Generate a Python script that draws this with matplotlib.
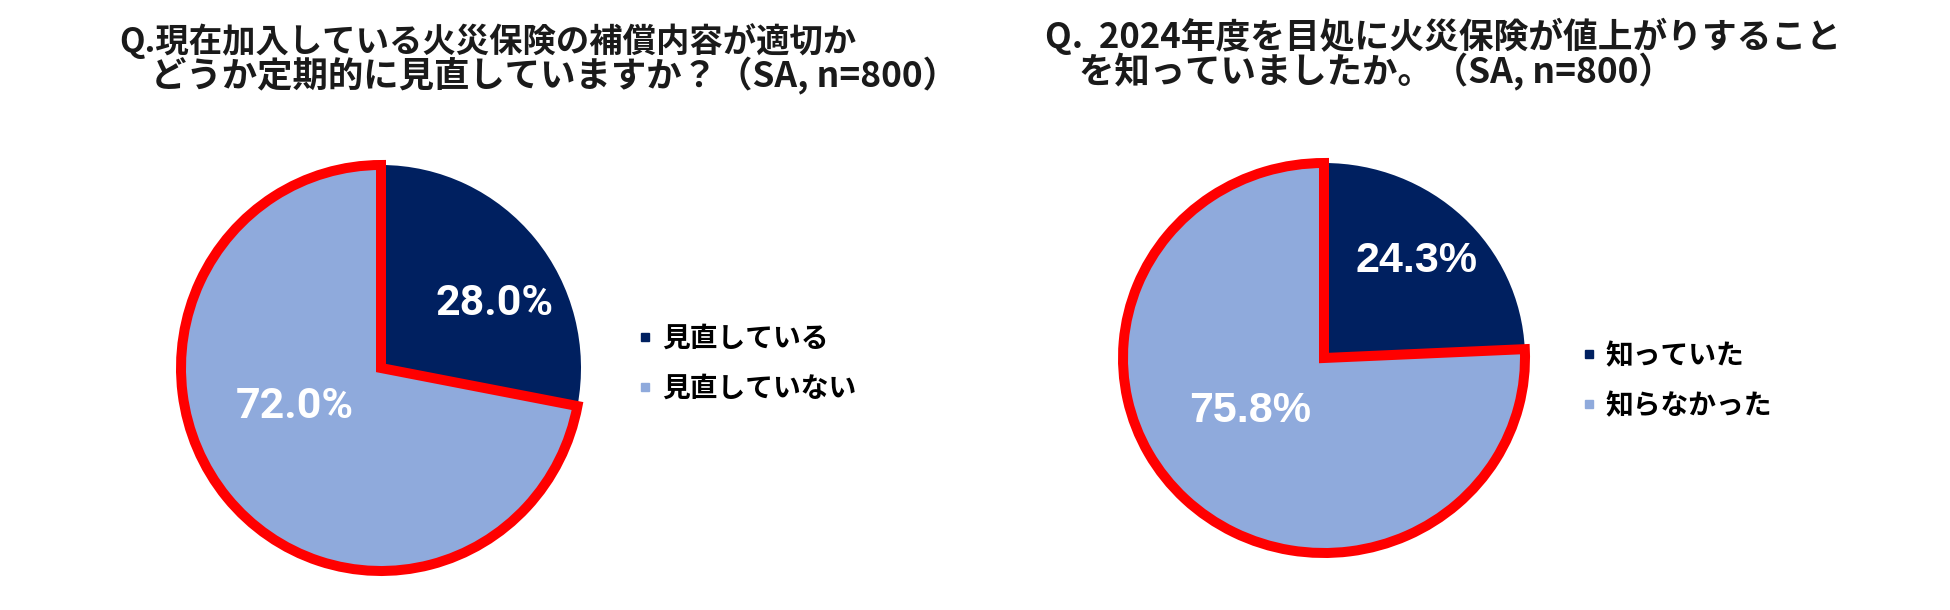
import matplotlib
matplotlib.use("Agg")
import matplotlib.pyplot as plt
from matplotlib.lines import Line2D
from matplotlib import font_manager as fm

# ---------------- data ----------------
left_title_1 = "Q.現在加入している火災保険の補償内容が適切か"
left_title_2 = "どうか定期的に見直していますか？（SA, n=800）"
left_labels = ["見直している", "見直していない"]
left_values = [28.0, 72.0]

right_title_1 = "Q.  2024年度を目処に火災保険が値上がりすること"
right_title_2 = "を知っていましたか。（SA, n=800）"
right_labels = ["知っていた", "知らなかった"]
right_values = [24.3, 75.8]

# ---------------- style ----------------
DARK = "#002060"
LIGHT = "#8FAADC"
RED = "#FF0000"
W, H = 1950, 610
JP = ["Noto Sans CJK JP", "DejaVu Sans"]
LAT = ["Liberation Sans", "DejaVu Sans"]

fig = plt.figure(figsize=(W / 100, H / 100), dpi=100)
fig.patch.set_facecolor("white")


def pie_axes(cx, cy, rx, ry, pad=1.15):
    w = 2 * rx * pad
    h = 2 * ry * pad
    ax = fig.add_axes([(cx - w / 2) / W, 1 - (cy + h / 2) / H, w / W, h / H])
    return ax, pad


def draw_pie(cx, cy, rx, ry, values, labels, label_pos, label_font, label_size,
             label_weight, legend_xy):
    ax, pad = pie_axes(cx, cy, rx, ry)
    wedges, _ = ax.pie(values, colors=[DARK, LIGHT], startangle=90,
                       counterclock=False, radius=1.0,
                       wedgeprops=dict(linewidth=0))
    wedges[1].set_edgecolor(RED)
    wedges[1].set_linewidth(7.2)
    wedges[1].set_joinstyle("miter")
    ax.set_xlim(-pad, pad)
    ax.set_ylim(-pad, pad)
    ax.set_aspect("auto")
    ax.axis("off")
    for v, (px, py) in zip(values, label_pos):
        ax.text(px, py, f"{v:.1f}%", color="white", fontsize=label_size,
                family=label_font, fontweight=label_weight,
                ha="center", va="center")
    handles = [Line2D([], [], marker="s", linestyle="none", color=c,
                      markersize=5.5) for c in (DARK, LIGHT)]
    lx, ly = legend_xy
    fig.legend(handles, labels, loc="center left",
               bbox_to_anchor=(lx / W, 1 - ly / H),
               bbox_transform=fig.transFigure,
               frameon=False, handlelength=0.6, handletextpad=0.3,
               labelspacing=0.8, borderpad=0, borderaxespad=0,
               prop=fm.FontProperties(family=JP, weight="bold", size=20))


# left pie
draw_pie(381, 368, 200, 203, left_values, left_labels,
         [(0.57, 0.32), (-0.43, -0.19)],
         ["Roboto", "DejaVu Sans"], 31, "bold", (637, 364))
# right pie
draw_pie(1324, 358, 201, 195, right_values, right_labels,
         [(0.46, 0.50), (-0.37, -0.27)],
         LAT, 31, "bold", (1581, 381))

# titles
tkw = dict(family=JP, fontweight="bold", color="#1a1a1a",
           ha="left", va="center")
fig.text(119 / W, 1 - 41 / H, left_title_1, fontsize=24, **tkw)
fig.text(151 / W, 1 - 76 / H, left_title_2, fontsize=25.5, **tkw)
fig.text(1045 / W, 1 - 36 / H, right_title_1, fontsize=25, **tkw)
fig.text(1079 / W, 1 - 72 / H, right_title_2, fontsize=25.5, **tkw)

fig.savefig("out.png", dpi=100, facecolor="white")
